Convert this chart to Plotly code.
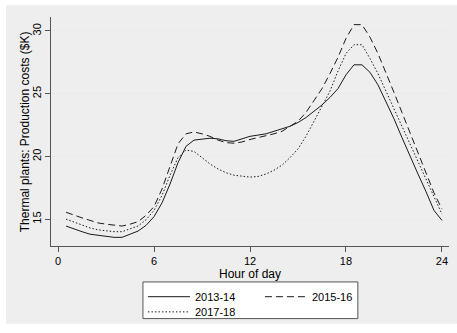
import plotly.graph_objects as go

hours = [h / 2 for h in range(1, 49)]

cost_2013_14 = [14.45, 14.2, 14.0, 13.8, 13.7, 13.6, 13.55, 13.55, 13.8, 14.05, 14.5, 15.2,
                16.3, 17.8, 19.5, 20.8, 21.3, 21.35, 21.45, 21.4, 21.25, 21.2, 21.4, 21.6,
                21.7, 21.8, 22.0, 22.2, 22.4, 22.7, 23.1, 23.6, 24.1, 24.7, 25.4, 26.5,
                27.3, 27.3, 26.7, 25.7, 24.4, 23.0, 21.5, 20.0, 18.6, 17.2, 15.7, 14.9]
cost_2015_16 = [15.55, 15.3, 15.1, 14.9, 14.7, 14.6, 14.55, 14.45, 14.6, 14.8, 15.3, 16.0,
                17.4, 19.2, 21.0, 21.8, 21.95, 21.8, 21.6, 21.3, 21.1, 21.05, 21.15, 21.35,
                21.5, 21.6, 21.8, 22.0, 22.4, 22.8, 23.5, 24.4, 25.4, 26.6, 27.9, 29.4,
                30.5, 30.5, 29.5, 28.2, 26.7, 25.1, 23.5, 21.9, 20.3, 18.7, 17.1, 15.8]
cost_2017_18 = [15.0, 14.75, 14.5, 14.3, 14.15, 14.05, 14.0, 14.0, 14.2, 14.45, 14.95, 15.7,
                16.9, 18.5, 19.9, 20.5, 20.4, 19.9, 19.4, 19.0, 18.7, 18.5, 18.4, 18.35,
                18.4, 18.6, 18.9, 19.3, 19.9, 20.6, 21.6, 22.8, 24.0, 25.2, 26.8, 28.2,
                28.9, 28.9, 27.8, 26.6, 25.2, 23.8, 22.4, 21.0, 19.6, 18.2, 16.8, 15.4]

series = [("2013-14", cost_2013_14, "solid", "legend"),
          ("2015-16", cost_2015_16, "7px,4px", "legend"),
          ("2017-18", cost_2017_18, "1.5px,2px", "legend2")]

x_ticks = [0, 6, 12, 18, 24]
y_ticks = [15, 20, 25, 30]
x_title = "Hour of day"
y_title = "Thermal plants: Production costs ($K)"

FONT = "Liberation Sans, Arial, sans-serif"

fig = go.Figure()
for name, vals, dash, leg in series:
    fig.add_trace(go.Scatter(x=hours, y=vals, mode="lines", name=name, legend=leg,
                             line=dict(color="#1a1a1a", width=1, dash=dash)))

leg_common = dict(orientation="h", xanchor="left", yanchor="top",
                  bgcolor="rgba(0,0,0,0)", borderwidth=0,
                  entrywidth=60, itemwidth=42, font=dict(size=11), traceorder="normal")

fig.update_layout(
    width=457, height=333,
    margin=dict(l=51, r=8, t=17, b=86),
    paper_bgcolor="white",
    plot_bgcolor="white",
    font=dict(family=FONT, size=11, color="black"),
    showlegend=True,
    legend=dict(x=0.231, y=-0.153, **leg_common),
    legend2=dict(x=0.231, y=-0.219, **leg_common),
    shapes=[dict(type="rect", xref="paper", yref="paper",
                 x0=-0.113, x1=1.02, y0=-0.339, y1=1.052,
                 fillcolor="#eeeeee", line=dict(width=0), layer="below"),
            dict(type="rect", xref="paper", yref="paper",
                 x0=0.231, x1=0.771, y0=-0.157, y1=-0.317,
                 fillcolor="white", line=dict(width=1, color="#555555"), layer="below")],
    annotations=[dict(text=y_title, textangle=-90, xref="paper", yref="paper",
                      x=-0.066, y=0.5, xanchor="center", yanchor="middle",
                      showarrow=False, font=dict(size=12))],
)
fig.update_xaxes(range=[-0.44, 24.44], tickvals=x_ticks, ticks="outside", ticklen=5,
                 tickcolor="#555555", showline=True, linecolor="#555555", linewidth=1,
                 showgrid=False, zeroline=False,
                 title=dict(text=x_title, standoff=2, font=dict(size=12)))
fig.update_yaxes(range=[12.86, 31.11], tickvals=y_ticks, ticks="outside", ticklen=5,
                 tickcolor="#555555", showline=True, linecolor="#555555", linewidth=1,
                 showgrid=True, gridcolor="#eaeaea", gridwidth=1, zeroline=False,
                 tickangle=-90)

fig.write_html("out.html", config={"displayModeBar": False},
               post_script="document.body.style.margin='0px';")
